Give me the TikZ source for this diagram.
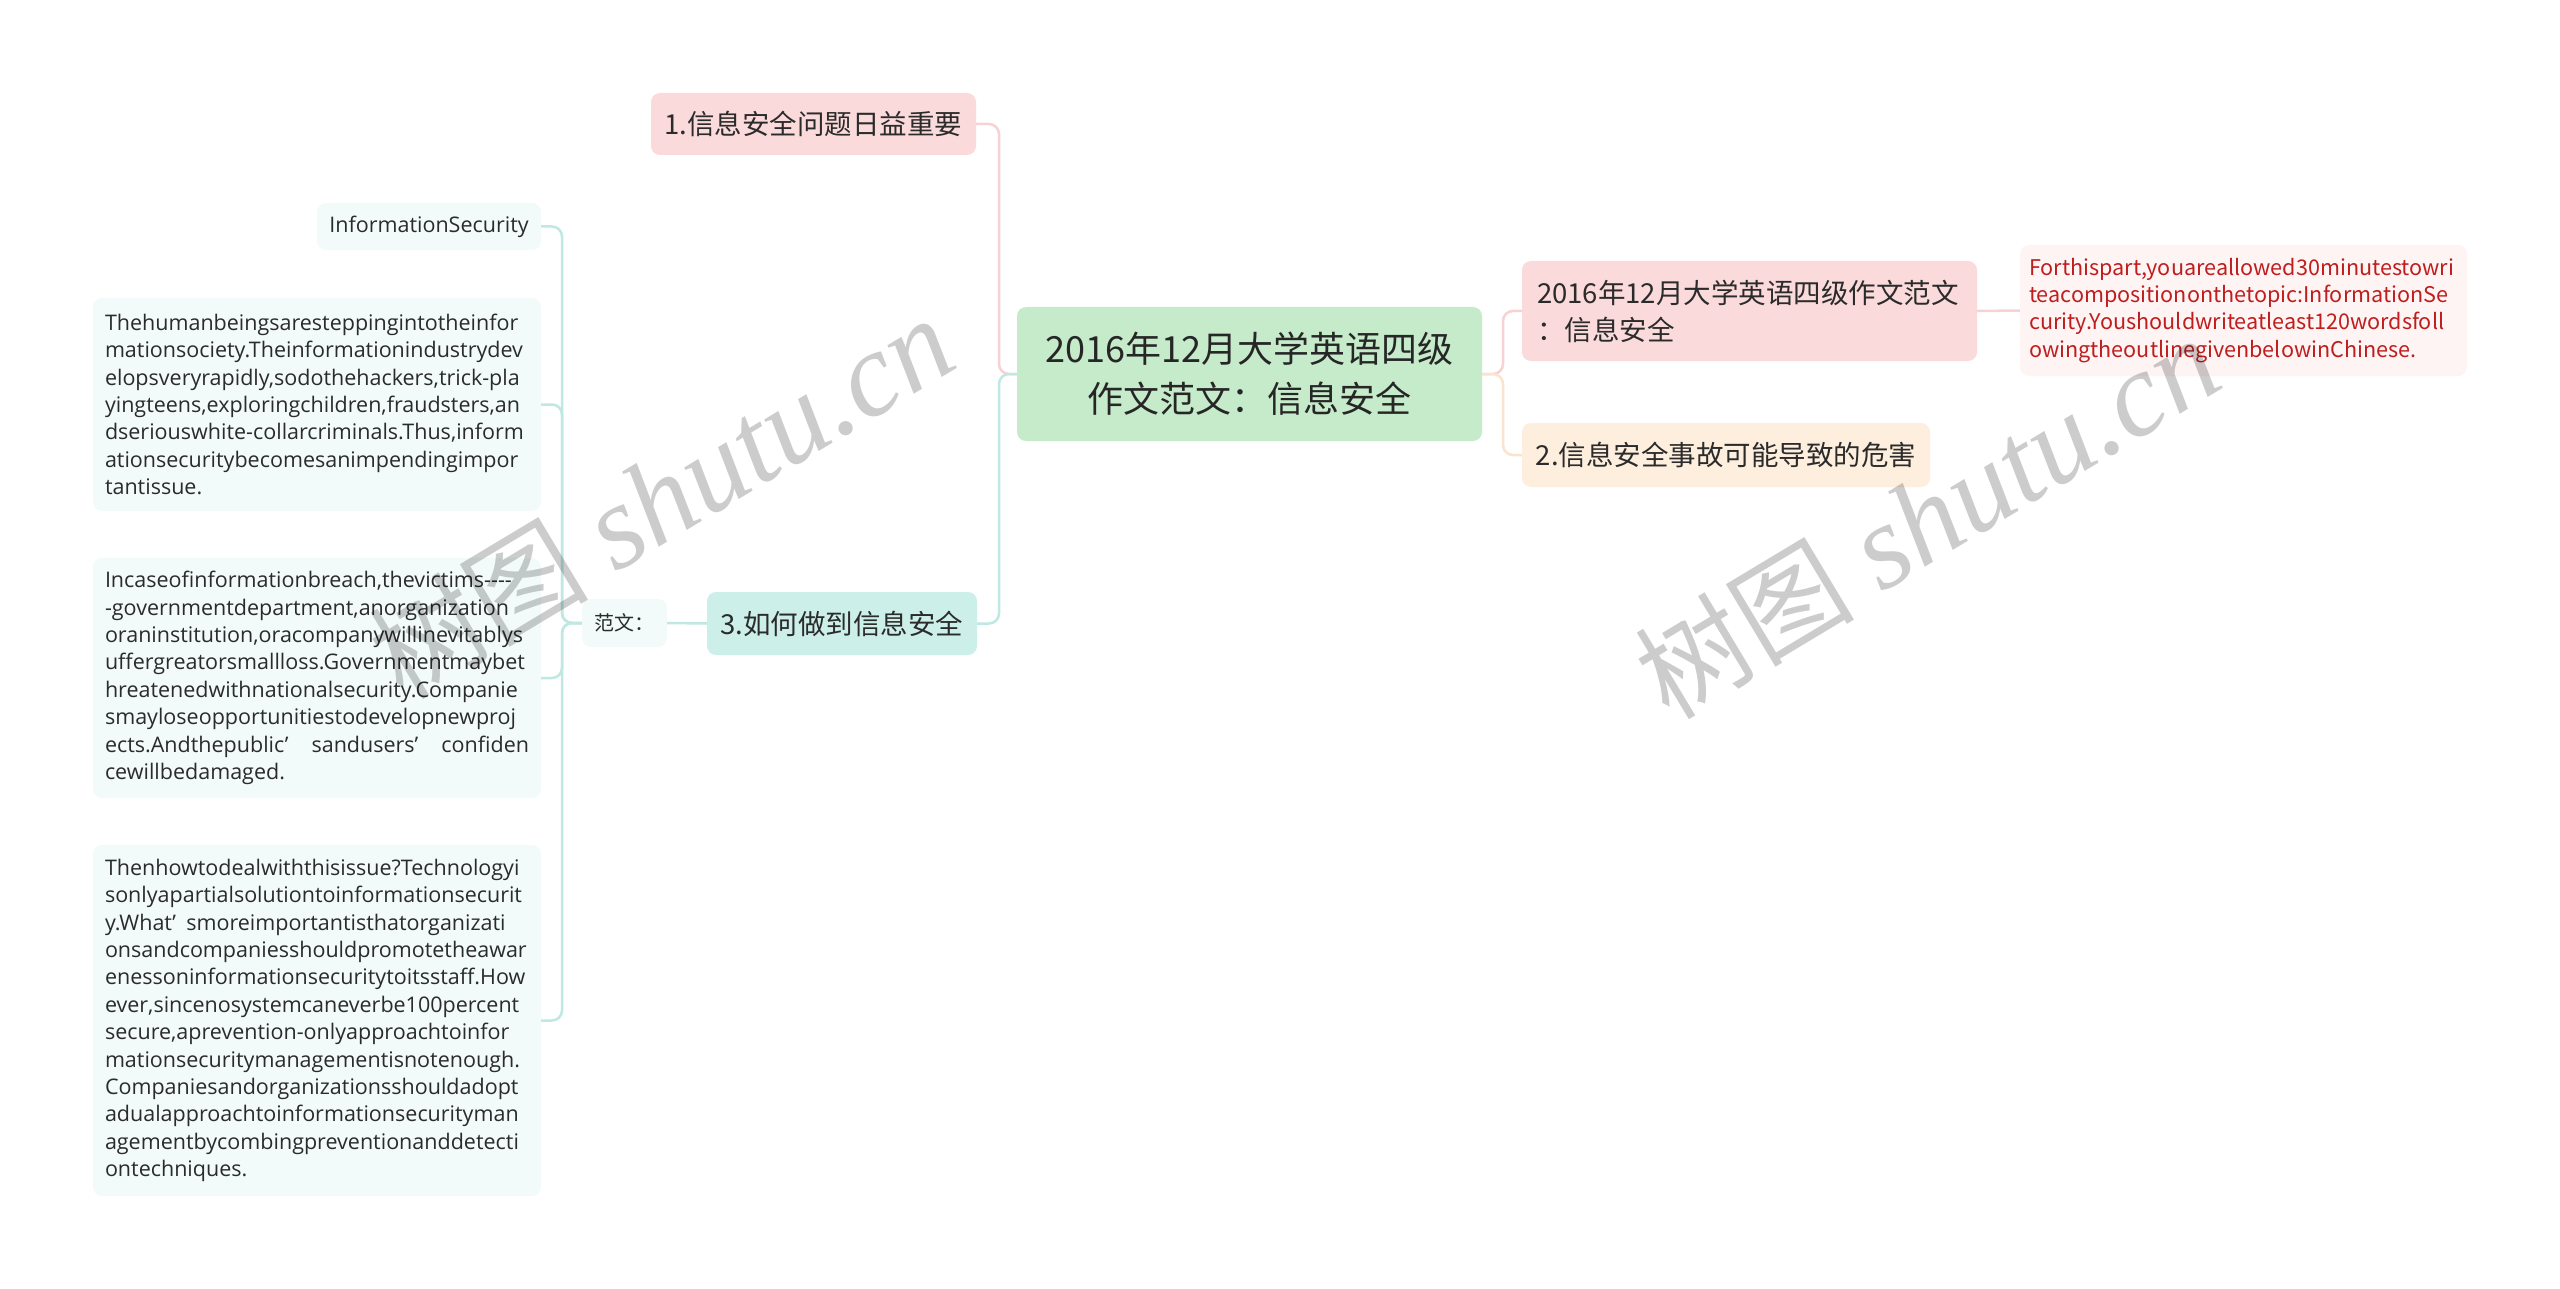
\documentclass[tikz,border=0pt]{standalone}
\usepackage{fontspec}
\setmainfont{Open Sans}
\newfontfamily\cjk{Noto Sans CJK SC}
\newfontfamily\wmlat{Liberation Serif}
\usetikzlibrary{calc}
\definecolor{pinkF}{HTML}{FADADB}
\definecolor{greenF}{HTML}{C6EBCB}
\definecolor{tealF}{HTML}{CDEFEA}
\definecolor{orangeF}{HTML}{FDEEDE}
\definecolor{leafF}{HTML}{F3FAFA}
\definecolor{redleafF}{HTML}{FEF4F4}
\definecolor{pinkL}{HTML}{F6D2D2}
\definecolor{tealL}{HTML}{C0E8E2}
\definecolor{orangeL}{HTML}{FBE3CE}
\definecolor{txt}{HTML}{2B2B2B}
\definecolor{redtxt}{HTML}{BF1E1E}
\begin{document}
\begin{tikzpicture}[x=1pt,y=-1pt,
  nbox/.style={rectangle, rounded corners=9pt, inner sep=0pt, text=txt},
  cjkmid/.style={font=\cjk\fontsize{27.5}{37}\selectfont},
  leaf/.style={nbox, fill=leafF, font=\fontsize{21.5}{27.4}\selectfont, align=left, text width=424pt, minimum width=448pt},
  lnk/.style={line width=2.5pt, rounded corners=10pt},
  wm/.style={rotate=31, text=black, text opacity=0.2}
]
\useasboundingbox (0,0) rectangle (2560,1289);
\fill[white] (0,0) rectangle (2560,1289);

% central
\node[nbox, fill=greenF, minimum width=465pt, minimum height=134pt, align=center,
  font=\cjk\fontsize{36}{50}\selectfont, text=black!85] (c) at (1249.5,374)
  {2016年12月大学英语四级\\作文范文：信息安全};

% level 1
\node[nbox, fill=pinkF, cjkmid, minimum width=325pt, minimum height=62pt] (n1) at (813.5,124) {1.信息安全问题日益重要};
\node[nbox, fill=tealF, cjkmid, minimum width=270pt, minimum height=63pt] (n3) at (842,623.5) {3.如何做到信息安全};
\node[nbox, fill=pinkF, cjkmid, align=left, text width=425pt, minimum width=455pt, minimum height=100pt] (rn1) at (1749.5,311)
  {2016年12月大学英语四级作文范文\\：信息安全};
\node[nbox, fill=orangeF, cjkmid, minimum width=408pt, minimum height=64pt] (rn2) at (1726,455) {2.信息安全事故可能导致的危害};

% right leaf
\node[nbox, fill=redleafF, text=redtxt, align=left, text width=429pt, minimum width=447pt, minimum height=131pt,
  font=\cjk\fontsize{21.6}{27.2}\selectfont] (red) at (2243.5,310.5)
  {Forthispart,youareallowed30minutestowri\\teacompositiononthetopic:InformationSe\\curity.Youshouldwriteatleast120wordsfoll\\owingtheoutlinegivenbelowinChinese.};

% left side
\node[nbox, fill=leafF, minimum width=85pt, minimum height=48pt, font=\cjk\fontsize{20}{24}\selectfont] (fan) at (624.5,623) {范文：};
\node[nbox, fill=leafF, minimum width=224pt, minimum height=47pt, font=\fontsize{21.5}{27.4}\selectfont] (is) at (429,226.5) {InformationSecurity};
\node[leaf, minimum height=213pt] (p1) at (317,404.5)
  {Thehumanbeingsaresteppingintotheinfor\\mationsociety.Theinformationindustrydev\\elopsveryrapidly,sodothehackers,trick-pla\\yingteens,exploringchildren,fraudsters,an\\dseriouswhite-collarcriminals.Thus,inform\\ationsecuritybecomesanimpendingimpor\\tantissue.};
\node[leaf, minimum height=240pt] (p2) at (317,678)
  {Incaseofinformationbreach,thevictims-{}-{}-{}-\\-governmentdepartment,anorganization\\oraninstitution,oracompanywillinevitablys\\uffergreatorsmallloss.Governmentmaybet\\hreatenedwithnationalsecurity.Companie\\smayloseopportunitiestodevelopnewproj\\ects.Andthepublic’\hfill sandusers’\hfill confiden\\cewillbedamaged.};
\node[leaf, minimum height=351pt] (p3) at (317,1020.5)
  {Thenhowtodealwiththisissue?Technologyi\\sonlyapartialsolutiontoinformationsecurit\\y.What’\hspace{3pt} smoreimportantisthatorganizati\\onsandcompaniesshouldpromotetheawar\\enessoninformationsecuritytoitsstaff.How\\ever,sincenosystemcaneverbe100percent\\secure,aprevention-onlyapproachtoinfor\\mationsecuritymanagementisnotenough.\\Companiesandorganizationsshouldadopt\\adualapproachtoinformationsecurityman\\agementbycombingpreventionanddetecti\\ontechniques.};

% connectors
\coordinate (sl) at (999,374);
\coordinate (sr) at (1503,374);
\coordinate (sb) at (562,623);
\draw[lnk, pinkL] (c.west) -- (sl) |- (n1.east);
\draw[lnk, tealL] (c.west) -- (sl) |- (n3.east);
\draw[lnk, pinkL] (c.east) -- (sr) |- (rn1.west);
\draw[lnk, orangeL] (c.east) -- (sr) |- (rn2.west);
\draw[lnk, pinkL] (rn1.east) -- (red.west);
\draw[lnk, tealL] (n3.west) -- (fan.east);
\draw[lnk, tealL] (fan.west) -- (sb) |- (is.east);
\draw[lnk, tealL] (fan.west) -- (sb) |- (p1.east);
\draw[lnk, tealL] (fan.west) -- (sb) |- (p2.east);
\draw[lnk, tealL] (fan.west) -- (sb) |- (p3.east);

% watermarks
\node[wm] (wm1) at (661,498) {{\cjk\fontsize{110}{120}\selectfont 树图}\hspace{28pt}{\wmlat\itshape\fontsize{120}{130}\selectfont shutu.cn}};
\node[wm] (wm2) at (1927,518) {{\cjk\fontsize{110}{120}\selectfont 树图}\hspace{28pt}{\wmlat\itshape\fontsize{120}{130}\selectfont shutu.cn}};
\end{tikzpicture}
\end{document}
